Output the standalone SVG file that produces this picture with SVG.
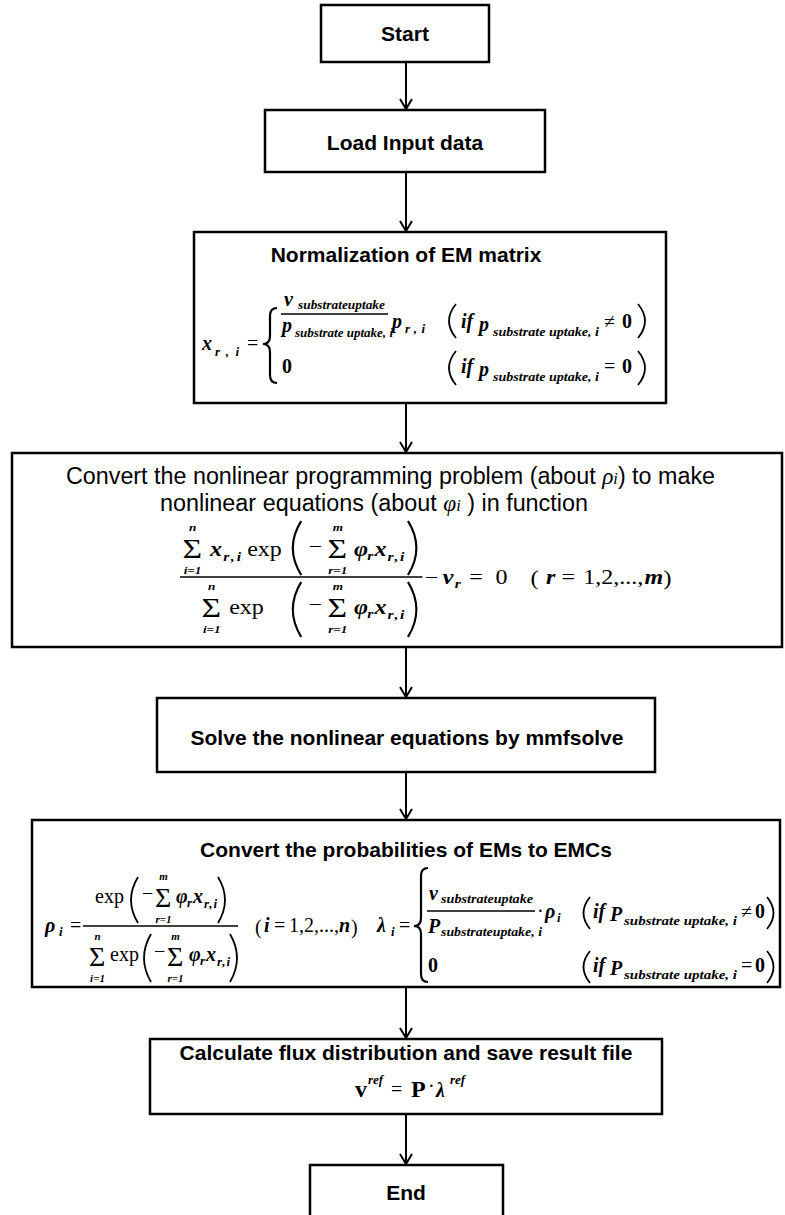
<svg xmlns="http://www.w3.org/2000/svg" width="785" height="1215" viewBox="0 0 785 1215">
<defs>
<style>
.box{fill:#fff;stroke:#000;stroke-width:2.5}
.ttl{font-family:"Liberation Sans",Arial,sans-serif;font-weight:bold;font-size:21px;text-anchor:middle;fill:#000}
.reg{font-family:"Liberation Sans",Arial,sans-serif;font-size:23px;fill:#000}
.gi{font-family:"Liberation Serif","Times New Roman",serif;font-style:italic}
.mi{font-family:"Liberation Serif","Times New Roman",serif;font-style:italic;font-weight:bold;font-size:20px;fill:#000}
.mr{font-family:"Liberation Serif","Times New Roman",serif;font-size:20px;fill:#000}
.mb{font-family:"Liberation Serif","Times New Roman",serif;font-weight:bold;font-size:24px;fill:#000}
.sb{font-family:"Liberation Serif","Times New Roman",serif;font-style:italic;font-weight:bold;font-size:13px;fill:#000}
.lim{font-family:"Liberation Serif","Times New Roman",serif;font-style:italic;font-weight:bold;font-size:11px;text-anchor:middle;fill:#000}
.sig{font-family:"Liberation Serif","Times New Roman",serif;font-size:28px;fill:#000}
.ln{stroke:#000;stroke-width:1.5;fill:none}
.pr{stroke:#000;stroke-width:1.8;fill:none}
.br{stroke:#000;stroke-width:2.2;fill:none}
.cn{stroke:#000;stroke-width:2;fill:none;marker-end:url(#ah)}
</style>
<marker id="ah" markerUnits="userSpaceOnUse" markerWidth="16" markerHeight="16" refX="13" refY="7" orient="auto">
<path d="M3,1 L13,7 L3,13" fill="none" stroke="#000" stroke-width="2"/>
</marker>
</defs>
<rect width="785" height="1215" fill="#fff"/>

<g id="connectors">
<line class="cn" x1="406" y1="62" x2="406" y2="109"/>
<line class="cn" x1="406" y1="172" x2="406" y2="231"/>
<line class="cn" x1="406" y1="403" x2="406" y2="452"/>
<line class="cn" x1="406" y1="647" x2="406" y2="697"/>
<line class="cn" x1="406" y1="772" x2="406" y2="819"/>
<line class="cn" x1="406" y1="987" x2="406" y2="1038"/>
<line class="cn" x1="406" y1="1114" x2="406" y2="1164"/>
</g>

<g id="start">
<rect class="box" x="321" y="5" width="168" height="57"/>
<text class="ttl" x="405" y="41">Start</text>
</g>

<g id="load">
<rect class="box" x="265" y="110" width="280" height="62"/>
<text class="ttl" x="405" y="150">Load Input data</text>
</g>

<g id="normalization">
<rect class="box" x="194" y="232" width="472" height="171"/>
<text class="ttl" x="406" y="262">Normalization of EM matrix</text>
<text class="mi" x="202" y="350" font-size="24">x</text>
<text class="sb" x="215" y="356" textLength="24" lengthAdjust="spacing">r,i</text>
<text class="mr" x="247" y="350" font-size="22">=</text>
<path class="br" d="M277,308 Q270,308 270,316 L270,336 Q270,344 263,344 Q270,344 270,352 L270,375 Q270,383 277,383"/>
<text class="mi" x="284" y="306" font-size="26">v</text>
<text class="sb" x="298" y="309" textLength="87" lengthAdjust="spacingAndGlyphs">substrateuptake</text>
<line class="ln" x1="281" y1="314" x2="388" y2="314"/>
<text class="mi" x="282" y="332" font-size="24">p</text>
<text class="sb" x="295" y="337" textLength="98" lengthAdjust="spacingAndGlyphs">substrate uptake, i</text>
<text class="mi" x="392" y="328" font-size="24">p</text>
<text class="sb" x="405" y="333" textLength="20" lengthAdjust="spacing">r,i</text>
<path class="pr" d="M456,304 Q442,321 456,338"/>
<text class="mi" x="461" y="328" font-size="22">if</text>
<text class="mi" x="479" y="331" font-size="24">p</text>
<text class="sb" x="493" y="336" textLength="106" lengthAdjust="spacingAndGlyphs">substrate uptake, i</text>
<text class="mr" x="604" y="328" font-size="22">≠</text>
<text class="mr" x="622" y="328" font-size="22" font-weight="bold">0</text>
<path class="pr" d="M638,304 Q652,321 638,338"/>
<text class="mr" x="282" y="373" font-size="22" font-weight="bold">0</text>
<path class="pr" d="M456,351 Q442,368 456,385"/>
<text class="mi" x="461" y="373" font-size="22">if</text>
<text class="mi" x="479" y="376" font-size="24">p</text>
<text class="sb" x="493" y="381" textLength="106" lengthAdjust="spacingAndGlyphs">substrate uptake, i</text>
<text class="mr" x="604" y="373" font-size="22">=</text>
<text class="mr" x="622" y="373" font-size="22" font-weight="bold">0</text>
<path class="pr" d="M638,351 Q652,368 638,385"/>
</g>

<g id="convert-nonlinear">
<rect class="box" x="12" y="453" width="770" height="194"/>
<text class="reg" x="66" y="484" textLength="649" lengthAdjust="spacingAndGlyphs">Convert the nonlinear programming problem (about <tspan class="gi">ρ</tspan><tspan class="gi" font-size="16">i</tspan>) to make</text>
<text class="reg" x="160" y="511" textLength="428" lengthAdjust="spacingAndGlyphs">nonlinear equations (about <tspan class="gi">φ</tspan><tspan class="gi" font-size="16">i</tspan> ) in function</text>
<g transform="matrix(1.2,0,0,1,-108,0)">
<!-- numerator -->
<text class="sig" x="242" y="558">Σ</text>
<text class="lim" x="250.5" y="531">n</text>
<text class="lim" x="250.5" y="574">i=1</text>
<text class="mi" x="265" y="556">x</text>
<text class="sb" x="276" y="561" textLength="15" lengthAdjust="spacing">r,i</text>
<text class="mr" x="296" y="556">exp</text>
<path class="pr" d="M341,521 Q327,548 341,575"/>
<text class="mr" x="347" y="553">−</text>
<text class="sig" x="363" y="558">Σ</text>
<text class="lim" x="371.5" y="531">m</text>
<text class="lim" x="371.5" y="574">r=1</text>
<text class="mi" x="385" y="556">φ</text>
<text class="sb" x="396" y="560">r</text>
<text class="mi" x="402" y="556">x</text>
<text class="sb" x="413" y="561" textLength="14" lengthAdjust="spacing">r,i</text>
<path class="pr" d="M430,521 Q444,548 430,575"/>
<line class="ln" x1="240" y1="577" x2="442" y2="577"/>
<!-- denominator -->
<text class="sig" x="258" y="617">Σ</text>
<text class="lim" x="266.5" y="590">n</text>
<text class="lim" x="266.5" y="633">i=1</text>
<text class="mr" x="281" y="614">exp</text>
<path class="pr" d="M341,582 Q327,609.5 341,637"/>
<text class="mr" x="347" y="611">−</text>
<text class="sig" x="363" y="617">Σ</text>
<text class="lim" x="371.5" y="590">m</text>
<text class="lim" x="371.5" y="633">r=1</text>
<text class="mi" x="385" y="614">φ</text>
<text class="sb" x="396" y="618">r</text>
<text class="mi" x="402" y="614">x</text>
<text class="sb" x="413" y="619" textLength="14" lengthAdjust="spacing">r,i</text>
<path class="pr" d="M430,582 Q444,609.5 430,637"/>
<!-- right side -->
<text class="mr" x="444" y="584">−</text>
<text class="mi" x="459" y="584">v</text>
<text class="sb" x="469" y="588">r</text>
<text class="mr" x="481" y="584">=</text>
<text class="mr" x="503" y="584">0</text>
<text class="mr" x="532" y="585" font-size="24">(</text>
<text class="mi" x="545" y="584">r</text>
<text class="mr" x="558" y="584">=</text>
<text class="mr" x="576" y="584" textLength="50" lengthAdjust="spacing">1,2,...,</text>
<text class="mi" x="627" y="584">m</text>
<text class="mr" x="643" y="585" font-size="24">)</text>
</g>
</g>

<g id="solve">
<rect class="box" x="157" y="698" width="498" height="74"/>
<text class="ttl" x="407" y="745">Solve the nonlinear equations by mmfsolve</text>
</g>

<g id="convert-probabilities">
<rect class="box" x="32" y="820" width="748" height="167"/>
<text class="ttl" x="406" y="857">Convert the probabilities of EMs to EMCs</text>
<!-- rho formula -->
<text class="mi" x="45" y="932" font-size="24">ρ</text>
<text class="sb" x="59" y="936">i</text>
<text class="mr" x="70" y="932">=</text>
<text class="mr" x="95" y="903">exp</text>
<path class="pr" d="M138,877 Q124,900 138,923"/>
<text class="mr" x="142" y="900">−</text>
<text class="sig" x="155" y="907">Σ</text>
<text class="lim" x="163.5" y="880">m</text>
<text class="lim" x="163.5" y="923">r=1</text>
<text class="mi" x="176" y="903">φ</text>
<text class="sb" x="187" y="907">r</text>
<text class="mi" x="193" y="903">x</text>
<text class="sb" x="204" y="908" textLength="13" lengthAdjust="spacing">r,i</text>
<path class="pr" d="M218,877 Q232,900 218,923"/>
<line class="ln" x1="83" y1="926" x2="238" y2="926"/>
<text class="sig" x="89" y="966">Σ</text>
<text class="lim" x="97.5" y="940">n</text>
<text class="lim" x="97.5" y="982">i=1</text>
<text class="mr" x="110" y="961">exp</text>
<path class="pr" d="M151,934 Q137,958 151,982"/>
<text class="mr" x="154" y="958">−</text>
<text class="sig" x="167" y="966">Σ</text>
<text class="lim" x="175.5" y="940">m</text>
<text class="lim" x="175.5" y="982">r=1</text>
<text class="mi" x="189" y="961">φ</text>
<text class="sb" x="200" y="965">r</text>
<text class="mi" x="206" y="961">x</text>
<text class="sb" x="217" y="966" textLength="13" lengthAdjust="spacing">r,i</text>
<path class="pr" d="M230,934 Q244,958 230,982"/>
<text class="mr" x="255" y="934" font-size="24">(</text>
<text class="mi" x="264" y="932">i</text>
<text class="mr" x="274" y="932">=</text>
<text class="mr" x="289" y="932" textLength="50" lengthAdjust="spacing">1,2,...,</text>
<text class="mi" x="339" y="932">n</text>
<text class="mr" x="351" y="934" font-size="24">)</text>
<!-- lambda formula -->
<text class="mi" x="377" y="932" font-size="24">λ</text>
<text class="sb" x="391" y="936">i</text>
<text class="mr" x="399" y="932">=</text>
<path class="br" d="M428,868 Q421,868 421,876 L421,918 Q421,926 414,926 Q421,926 421,934 L421,974 Q421,982 428,982"/>
<text class="mi" x="429" y="900" font-size="22">v</text>
<text class="sb" x="441" y="903" textLength="92" lengthAdjust="spacingAndGlyphs">substrateuptake</text>
<line class="ln" x1="427" y1="911" x2="535" y2="911"/>
<text class="mi" x="428" y="933" font-size="21">P</text>
<text class="sb" x="441" y="936" textLength="101" lengthAdjust="spacingAndGlyphs">substrateuptake, i</text>
<text class="mr" x="537" y="918">·</text>
<text class="mi" x="545" y="918" font-size="22">ρ</text>
<text class="sb" x="557" y="922">i</text>
<path class="pr" d="M590,897 Q577,913 590,929"/>
<text class="mi" x="593" y="918">if</text>
<text class="mi" x="610" y="921" font-size="21">P</text>
<text class="sb" x="624" y="925" textLength="113" lengthAdjust="spacingAndGlyphs">substrate uptake, i</text>
<text class="mr" x="741" y="918">≠</text>
<text class="mr" x="755" y="918" font-weight="bold">0</text>
<path class="pr" d="M767,897 Q780,913 767,929"/>
<text class="mr" x="428" y="972" font-weight="bold">0</text>
<path class="pr" d="M590,951 Q577,967 590,983"/>
<text class="mi" x="593" y="972">if</text>
<text class="mi" x="610" y="975" font-size="21">P</text>
<text class="sb" x="624" y="979" textLength="113" lengthAdjust="spacingAndGlyphs">substrate uptake, i</text>
<text class="mr" x="741" y="972">=</text>
<text class="mr" x="755" y="972" font-weight="bold">0</text>
<path class="pr" d="M767,951 Q780,967 767,983"/>
</g>

<g id="flux">
<rect class="box" x="150" y="1039" width="512" height="75"/>
<text class="ttl" x="406" y="1060">Calculate flux distribution and save result file</text>
<text class="mb" x="355" y="1097">v</text>
<text class="sb" x="368" y="1084" font-size="14">ref</text>
<text class="mr" x="391" y="1096" font-size="23">=</text>
<text class="mb" x="411" y="1097">P</text>
<text class="mr" x="428" y="1093">·</text>
<text class="mi" x="436" y="1097" font-size="23">λ</text>
<text class="sb" x="450" y="1084" font-size="14">ref</text>
</g>

<g id="end">
<rect class="box" x="310" y="1165" width="193" height="56"/>
<text class="ttl" x="406" y="1200">End</text>
</g>
</svg>
